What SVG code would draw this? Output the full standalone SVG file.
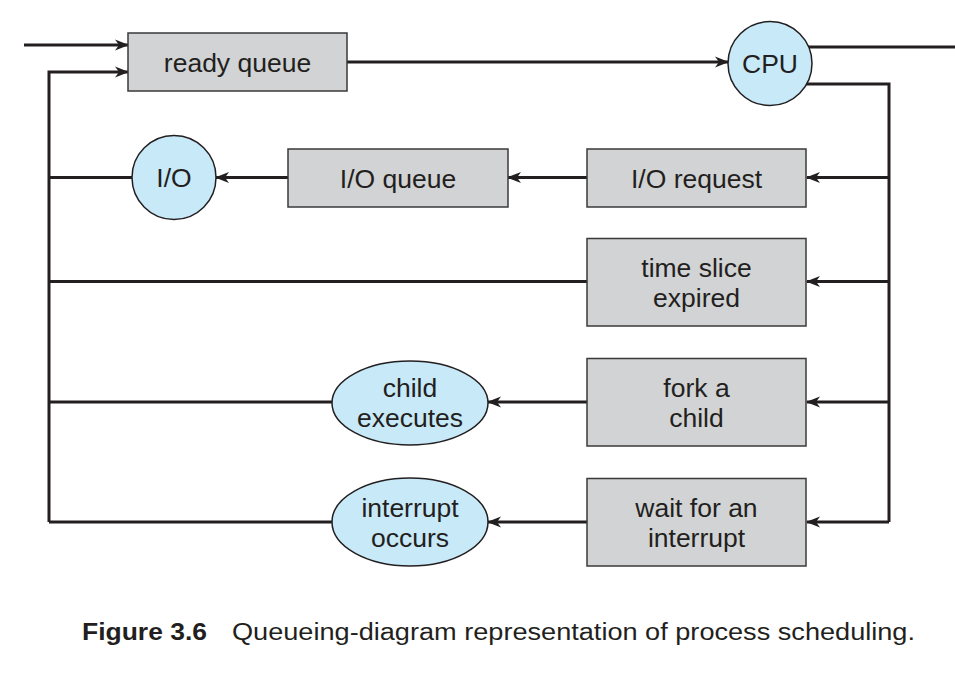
<svg xmlns="http://www.w3.org/2000/svg" width="955" height="675" viewBox="0 0 955 675">
<style>
.box{fill:#d1d3d4;stroke:#3a3a3a;stroke-width:1.5}
.cir{fill:#c8e9f8;stroke:#231f20;stroke-width:1.5}
.ln{fill:none;stroke:#231f20;stroke-width:3}
.t{font-family:"Liberation Sans",Arial,sans-serif;font-size:26.5px;fill:#231f20;text-anchor:middle}
.cap{font-family:"Liberation Sans",Arial,sans-serif;font-size:23.5px;fill:#231f20}
</style>
<defs>
<marker id="ah" markerUnits="userSpaceOnUse" markerWidth="14" markerHeight="12" refX="13" refY="6" orient="auto" viewBox="0 0 14 12">
<path d="M0,0.5 L14,6 L0,11.5 L4,6 z" fill="#231f20"/>
</marker>
</defs>
<rect width="955" height="675" fill="#ffffff"/>
<g id="connectors">
<line class="ln" x1="24" y1="45" x2="128" y2="45" marker-end="url(#ah)"/>
<polyline class="ln" points="49,522 49,72 128,72" marker-end="url(#ah)"/>
<line class="ln" x1="347" y1="62" x2="728" y2="62" marker-end="url(#ah)"/>
<line class="ln" x1="808" y1="47" x2="955" y2="47"/>
<polyline class="ln" points="806,84 889,84 889,522"/>
<line class="ln" x1="889" y1="177.5" x2="807" y2="177.5" marker-end="url(#ah)"/>
<line class="ln" x1="889" y1="281.5" x2="807" y2="281.5" marker-end="url(#ah)"/>
<line class="ln" x1="889" y1="402" x2="807" y2="402" marker-end="url(#ah)"/>
<line class="ln" x1="889" y1="522" x2="807" y2="522" marker-end="url(#ah)"/>
<line class="ln" x1="587" y1="177.5" x2="508" y2="177.5" marker-end="url(#ah)"/>
<line class="ln" x1="288" y1="177.5" x2="216" y2="177.5" marker-end="url(#ah)"/>
<line class="ln" x1="587" y1="402" x2="488" y2="402" marker-end="url(#ah)"/>
<line class="ln" x1="587" y1="522" x2="488" y2="522" marker-end="url(#ah)"/>
<line class="ln" x1="49" y1="177.5" x2="132" y2="177.5"/>
<line class="ln" x1="49" y1="281.5" x2="587" y2="281.5"/>
<line class="ln" x1="49" y1="402" x2="332" y2="402"/>
<line class="ln" x1="49" y1="522" x2="332" y2="522"/>
</g>
<g id="ready-queue">
<rect class="box" x="128" y="33" width="219" height="58"/>
<text class="t" x="237.5" y="71.5">ready queue</text>
</g>
<g id="cpu">
<circle class="cir" cx="770" cy="63.5" r="42"/>
<text class="t" x="770" y="73">CPU</text>
</g>
<g id="io">
<circle class="cir" cx="174" cy="177.5" r="42"/>
<text class="t" x="174" y="187">I/O</text>
</g>
<g id="io-queue">
<rect class="box" x="288" y="149" width="220" height="58"/>
<text class="t" x="398" y="187.5">I/O queue</text>
</g>
<g id="io-request">
<rect class="box" x="587" y="149" width="219" height="58"/>
<text class="t" x="696.5" y="187.5">I/O request</text>
</g>
<g id="time-slice">
<rect class="box" x="587" y="238.5" width="219" height="87.5"/>
<text class="t" x="696.5" y="276.5">time slice</text>
<text class="t" x="696.5" y="306.5">expired</text>
</g>
<g id="fork">
<rect class="box" x="587" y="358.5" width="219" height="87.5"/>
<text class="t" x="696.5" y="396.5">fork a</text>
<text class="t" x="696.5" y="426.5">child</text>
</g>
<g id="wait">
<rect class="box" x="587" y="478.5" width="219" height="87.5"/>
<text class="t" x="696.5" y="516.5">wait for an</text>
<text class="t" x="696.5" y="546.5">interrupt</text>
</g>
<g id="child-executes">
<ellipse class="cir" cx="410" cy="403" rx="78" ry="42"/>
<text class="t" x="410" y="396.5">child</text>
<text class="t" x="410" y="426.5">executes</text>
</g>
<g id="interrupt-occurs">
<ellipse class="cir" cx="410" cy="522" rx="78" ry="44"/>
<text class="t" x="410" y="516.5">interrupt</text>
<text class="t" x="410" y="546.5">occurs</text>
</g>
<g id="caption">
<text class="cap" x="82" y="640"><tspan font-weight="bold" textLength="125" lengthAdjust="spacingAndGlyphs">Figure 3.6</tspan></text>
<text class="cap" x="232" y="640" textLength="683" lengthAdjust="spacingAndGlyphs">Queueing-diagram representation of process scheduling.</text>
</g>
</svg>
